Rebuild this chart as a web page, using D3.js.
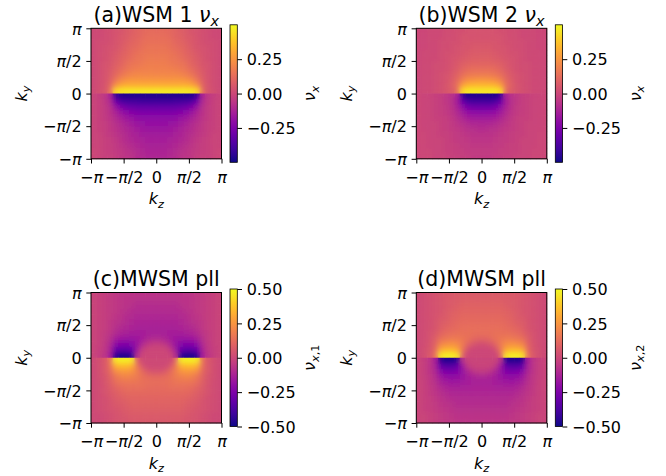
<!DOCTYPE html>
<html>
<head>
<meta charset="utf-8">
<script src="https://cdn.jsdelivr.net/npm/d3@7"></script>
<style>
  body { margin: 0; background: #fff; }
  text { font-family: "DejaVu Sans", sans-serif; white-space: pre; }
</style>
</head>
<body>
<svg id="fig" width="666" height="476"></svg>
<script>
// values: rows go from ky = +pi (top) to ky = -pi (bottom),
// columns from kz = -pi to kz = +pi, 24 x 24 cells per panel
const panelA = [
  [0.01,0.01,0.02,0.03,0.04,0.05,0.07,0.08,0.10,0.11,0.12,0.12,0.12,0.12,0.11,0.10,0.08,0.07,0.05,0.04,0.03,0.02,0.01,0.01],
  [0.01,0.01,0.02,0.03,0.04,0.06,0.07,0.09,0.10,0.12,0.13,0.13,0.13,0.13,0.12,0.10,0.09,0.07,0.06,0.04,0.03,0.02,0.01,0.01],
  [0.01,0.02,0.02,0.03,0.05,0.06,0.08,0.10,0.11,0.13,0.14,0.14,0.14,0.14,0.13,0.11,0.10,0.08,0.06,0.05,0.03,0.02,0.02,0.01],
  [0.01,0.02,0.03,0.04,0.05,0.07,0.09,0.11,0.12,0.14,0.15,0.15,0.15,0.15,0.14,0.12,0.11,0.09,0.07,0.05,0.04,0.03,0.02,0.01],
  [0.01,0.02,0.03,0.04,0.06,0.08,0.10,0.12,0.14,0.15,0.16,0.16,0.16,0.16,0.15,0.14,0.12,0.10,0.08,0.06,0.04,0.03,0.02,0.01],
  [0.01,0.02,0.03,0.05,0.07,0.09,0.11,0.13,0.15,0.16,0.17,0.17,0.17,0.17,0.16,0.15,0.13,0.11,0.09,0.07,0.05,0.03,0.02,0.01],
  [0.01,0.02,0.04,0.05,0.08,0.10,0.13,0.15,0.16,0.17,0.18,0.18,0.18,0.18,0.17,0.16,0.15,0.13,0.10,0.08,0.05,0.04,0.02,0.01],
  [0.01,0.02,0.04,0.06,0.09,0.12,0.15,0.17,0.18,0.19,0.19,0.19,0.19,0.19,0.19,0.18,0.17,0.15,0.12,0.09,0.06,0.04,0.02,0.01],
  [0.01,0.02,0.04,0.07,0.11,0.15,0.18,0.20,0.21,0.21,0.21,0.21,0.21,0.21,0.21,0.21,0.20,0.18,0.15,0.11,0.07,0.04,0.02,0.01],
  [0.01,0.02,0.04,0.08,0.15,0.21,0.24,0.25,0.25,0.25,0.25,0.25,0.25,0.25,0.25,0.25,0.25,0.24,0.21,0.15,0.08,0.04,0.02,0.01],
  [0.01,0.02,0.05,0.10,0.24,0.30,0.32,0.32,0.32,0.32,0.32,0.32,0.32,0.32,0.32,0.32,0.32,0.32,0.30,0.24,0.10,0.05,0.02,0.01],
  [0.01,0.03,0.05,0.12,0.42,0.45,0.46,0.46,0.46,0.46,0.46,0.46,0.46,0.46,0.46,0.46,0.46,0.46,0.45,0.42,0.12,0.05,0.03,0.01],
  [-0.01,-0.03,-0.05,-0.12,-0.42,-0.46,-0.47,-0.47,-0.47,-0.47,-0.47,-0.47,-0.47,-0.47,-0.47,-0.47,-0.47,-0.47,-0.46,-0.42,-0.12,-0.05,-0.03,-0.01],
  [-0.01,-0.02,-0.05,-0.10,-0.28,-0.36,-0.38,-0.39,-0.39,-0.40,-0.40,-0.40,-0.40,-0.40,-0.40,-0.39,-0.39,-0.38,-0.36,-0.28,-0.10,-0.05,-0.02,-0.01],
  [-0.01,-0.02,-0.04,-0.08,-0.17,-0.24,-0.28,-0.30,-0.31,-0.31,-0.31,-0.31,-0.31,-0.31,-0.31,-0.31,-0.30,-0.28,-0.24,-0.17,-0.08,-0.04,-0.02,-0.01],
  [-0.01,-0.02,-0.04,-0.07,-0.12,-0.17,-0.21,-0.23,-0.24,-0.25,-0.25,-0.25,-0.25,-0.25,-0.25,-0.24,-0.23,-0.21,-0.17,-0.12,-0.07,-0.04,-0.02,-0.01],
  [-0.01,-0.02,-0.04,-0.06,-0.10,-0.13,-0.16,-0.18,-0.20,-0.21,-0.21,-0.21,-0.21,-0.21,-0.21,-0.20,-0.18,-0.16,-0.13,-0.10,-0.06,-0.04,-0.02,-0.01],
  [-0.01,-0.02,-0.03,-0.05,-0.08,-0.10,-0.13,-0.15,-0.17,-0.18,-0.19,-0.19,-0.19,-0.19,-0.18,-0.17,-0.15,-0.13,-0.10,-0.08,-0.05,-0.03,-0.02,-0.01],
  [-0.01,-0.02,-0.03,-0.05,-0.07,-0.09,-0.11,-0.13,-0.15,-0.16,-0.17,-0.17,-0.17,-0.17,-0.16,-0.15,-0.13,-0.11,-0.09,-0.07,-0.05,-0.03,-0.02,-0.01],
  [-0.01,-0.01,-0.03,-0.04,-0.06,-0.08,-0.10,-0.12,-0.13,-0.15,-0.15,-0.15,-0.15,-0.15,-0.15,-0.13,-0.12,-0.10,-0.08,-0.06,-0.04,-0.03,-0.01,-0.01],
  [-0.01,-0.01,-0.02,-0.03,-0.05,-0.07,-0.09,-0.11,-0.12,-0.13,-0.14,-0.14,-0.14,-0.14,-0.13,-0.12,-0.11,-0.09,-0.07,-0.05,-0.03,-0.02,-0.01,-0.01],
  [-0.01,-0.01,-0.02,-0.03,-0.04,-0.06,-0.08,-0.09,-0.11,-0.12,-0.13,-0.13,-0.13,-0.13,-0.12,-0.11,-0.09,-0.08,-0.06,-0.04,-0.03,-0.02,-0.01,-0.01],
  [0.00,-0.01,-0.02,-0.03,-0.04,-0.05,-0.07,-0.08,-0.10,-0.11,-0.12,-0.12,-0.12,-0.12,-0.11,-0.10,-0.08,-0.07,-0.05,-0.04,-0.03,-0.02,-0.01,0.00],
  [0.00,-0.01,-0.02,-0.02,-0.03,-0.05,-0.06,-0.07,-0.09,-0.10,-0.11,-0.11,-0.11,-0.11,-0.10,-0.09,-0.07,-0.06,-0.05,-0.03,-0.02,-0.02,-0.01,0.00]
];

const panelB = [
  [0.00,0.00,0.01,0.01,0.01,0.02,0.02,0.03,0.03,0.04,0.04,0.04,0.04,0.04,0.04,0.03,0.03,0.02,0.02,0.01,0.01,0.01,0.00,0.00],
  [0.00,0.00,0.01,0.01,0.01,0.02,0.02,0.03,0.04,0.04,0.04,0.04,0.04,0.04,0.04,0.04,0.03,0.02,0.02,0.01,0.01,0.01,0.00,0.00],
  [0.00,0.00,0.01,0.01,0.02,0.02,0.03,0.03,0.04,0.05,0.05,0.05,0.05,0.05,0.05,0.04,0.03,0.03,0.02,0.02,0.01,0.01,0.00,0.00],
  [0.00,0.00,0.01,0.01,0.02,0.02,0.03,0.04,0.05,0.05,0.06,0.06,0.06,0.06,0.05,0.05,0.04,0.03,0.02,0.02,0.01,0.01,0.00,0.00],
  [0.00,0.01,0.01,0.01,0.02,0.03,0.03,0.04,0.05,0.06,0.07,0.07,0.07,0.07,0.06,0.05,0.04,0.03,0.03,0.02,0.01,0.01,0.01,0.00],
  [0.00,0.01,0.01,0.01,0.02,0.03,0.04,0.05,0.06,0.07,0.08,0.08,0.08,0.08,0.07,0.06,0.05,0.04,0.03,0.02,0.01,0.01,0.01,0.00],
  [0.00,0.01,0.01,0.02,0.02,0.03,0.04,0.06,0.08,0.09,0.10,0.10,0.10,0.10,0.09,0.08,0.06,0.04,0.03,0.02,0.02,0.01,0.01,0.00],
  [0.00,0.01,0.01,0.02,0.02,0.03,0.05,0.07,0.10,0.12,0.13,0.13,0.13,0.13,0.12,0.10,0.07,0.05,0.03,0.02,0.02,0.01,0.01,0.00],
  [0.00,0.01,0.01,0.02,0.03,0.04,0.06,0.09,0.13,0.16,0.17,0.17,0.17,0.17,0.16,0.13,0.09,0.06,0.04,0.03,0.02,0.01,0.01,0.00],
  [0.00,0.01,0.01,0.02,0.03,0.04,0.07,0.11,0.18,0.23,0.24,0.25,0.25,0.24,0.23,0.18,0.11,0.07,0.04,0.03,0.02,0.01,0.01,0.00],
  [0.00,0.01,0.01,0.02,0.03,0.05,0.08,0.14,0.28,0.33,0.34,0.34,0.34,0.34,0.33,0.28,0.14,0.08,0.05,0.03,0.02,0.01,0.01,0.00],
  [0.00,0.01,0.01,0.02,0.03,0.05,0.07,0.12,0.42,0.46,0.46,0.46,0.46,0.46,0.46,0.42,0.12,0.07,0.05,0.03,0.02,0.01,0.01,0.00],
  [0.00,-0.01,-0.01,-0.02,-0.03,-0.05,-0.07,-0.12,-0.42,-0.47,-0.47,-0.47,-0.47,-0.47,-0.47,-0.42,-0.12,-0.07,-0.05,-0.03,-0.02,-0.01,-0.01,0.00],
  [0.00,-0.01,-0.01,-0.02,-0.03,-0.05,-0.08,-0.14,-0.30,-0.37,-0.39,-0.39,-0.39,-0.39,-0.37,-0.30,-0.14,-0.08,-0.05,-0.03,-0.02,-0.01,-0.01,0.00],
  [0.00,-0.01,-0.01,-0.02,-0.03,-0.04,-0.07,-0.12,-0.20,-0.26,-0.28,-0.28,-0.28,-0.28,-0.26,-0.20,-0.12,-0.07,-0.04,-0.03,-0.02,-0.01,-0.01,0.00],
  [0.00,-0.01,-0.01,-0.02,-0.03,-0.04,-0.06,-0.10,-0.15,-0.19,-0.20,-0.21,-0.21,-0.20,-0.19,-0.15,-0.10,-0.06,-0.04,-0.03,-0.02,-0.01,-0.01,0.00],
  [0.00,-0.01,-0.01,-0.02,-0.02,-0.03,-0.05,-0.08,-0.11,-0.14,-0.15,-0.15,-0.15,-0.15,-0.14,-0.11,-0.08,-0.05,-0.03,-0.02,-0.02,-0.01,-0.01,0.00],
  [0.00,-0.01,-0.01,-0.01,-0.02,-0.03,-0.04,-0.06,-0.08,-0.10,-0.11,-0.11,-0.11,-0.11,-0.10,-0.08,-0.06,-0.04,-0.03,-0.02,-0.01,-0.01,-0.01,0.00],
  [0.00,-0.01,-0.01,-0.01,-0.02,-0.03,-0.04,-0.05,-0.06,-0.08,-0.08,-0.09,-0.09,-0.08,-0.08,-0.06,-0.05,-0.04,-0.03,-0.02,-0.01,-0.01,-0.01,0.00],
  [0.00,0.00,-0.01,-0.01,-0.02,-0.02,-0.03,-0.04,-0.05,-0.06,-0.07,-0.07,-0.07,-0.07,-0.06,-0.05,-0.04,-0.03,-0.02,-0.02,-0.01,-0.01,0.00,0.00],
  [0.00,0.00,-0.01,-0.01,-0.01,-0.02,-0.03,-0.04,-0.04,-0.05,-0.06,-0.06,-0.06,-0.06,-0.05,-0.04,-0.04,-0.03,-0.02,-0.01,-0.01,-0.01,0.00,0.00],
  [0.00,0.00,-0.01,-0.01,-0.01,-0.02,-0.02,-0.03,-0.04,-0.04,-0.05,-0.05,-0.05,-0.05,-0.04,-0.04,-0.03,-0.02,-0.02,-0.01,-0.01,-0.01,0.00,0.00],
  [0.00,0.00,0.00,-0.01,-0.01,-0.02,-0.02,-0.03,-0.03,-0.04,-0.04,-0.04,-0.04,-0.04,-0.04,-0.03,-0.03,-0.02,-0.02,-0.01,-0.01,0.00,0.00,0.00],
  [0.00,0.00,0.00,-0.01,-0.01,-0.01,-0.02,-0.02,-0.03,-0.03,-0.04,-0.04,-0.04,-0.04,-0.03,-0.03,-0.02,-0.02,-0.01,-0.01,-0.01,0.00,0.00,0.00]
];

const panelC = [
  [-0.01,-0.02,-0.03,-0.04,-0.05,-0.06,-0.06,-0.07,-0.07,-0.07,-0.07,-0.07,-0.07,-0.07,-0.07,-0.07,-0.07,-0.06,-0.06,-0.05,-0.04,-0.03,-0.02,-0.01],
  [-0.01,-0.02,-0.03,-0.04,-0.05,-0.06,-0.07,-0.07,-0.08,-0.08,-0.08,-0.08,-0.08,-0.08,-0.08,-0.08,-0.07,-0.07,-0.06,-0.05,-0.04,-0.03,-0.02,-0.01],
  [-0.01,-0.02,-0.03,-0.04,-0.05,-0.06,-0.07,-0.08,-0.09,-0.09,-0.09,-0.09,-0.09,-0.09,-0.09,-0.09,-0.08,-0.07,-0.06,-0.05,-0.04,-0.03,-0.02,-0.01],
  [-0.01,-0.02,-0.03,-0.04,-0.05,-0.07,-0.08,-0.09,-0.10,-0.10,-0.10,-0.10,-0.10,-0.10,-0.10,-0.10,-0.09,-0.08,-0.07,-0.05,-0.04,-0.03,-0.02,-0.01],
  [-0.01,-0.02,-0.03,-0.04,-0.06,-0.07,-0.09,-0.10,-0.11,-0.11,-0.11,-0.11,-0.11,-0.11,-0.11,-0.11,-0.10,-0.09,-0.07,-0.06,-0.04,-0.03,-0.02,-0.01],
  [-0.01,-0.02,-0.03,-0.05,-0.07,-0.08,-0.10,-0.11,-0.12,-0.12,-0.12,-0.12,-0.12,-0.12,-0.12,-0.12,-0.11,-0.10,-0.08,-0.07,-0.05,-0.03,-0.02,-0.01],
  [-0.01,-0.02,-0.03,-0.05,-0.08,-0.10,-0.11,-0.12,-0.13,-0.13,-0.13,-0.13,-0.13,-0.13,-0.13,-0.13,-0.12,-0.11,-0.10,-0.08,-0.05,-0.03,-0.02,-0.01],
  [-0.01,-0.02,-0.04,-0.06,-0.10,-0.12,-0.13,-0.14,-0.14,-0.14,-0.13,-0.13,-0.13,-0.13,-0.14,-0.14,-0.14,-0.13,-0.12,-0.10,-0.06,-0.04,-0.02,-0.01],
  [-0.01,-0.02,-0.04,-0.08,-0.14,-0.16,-0.17,-0.17,-0.16,-0.14,-0.11,-0.10,-0.10,-0.11,-0.14,-0.16,-0.17,-0.17,-0.16,-0.14,-0.08,-0.04,-0.02,-0.01],
  [-0.01,-0.02,-0.05,-0.10,-0.20,-0.23,-0.24,-0.22,-0.17,-0.10,-0.05,-0.03,-0.03,-0.05,-0.10,-0.17,-0.22,-0.24,-0.23,-0.20,-0.10,-0.05,-0.02,-0.01],
  [-0.01,-0.03,-0.05,-0.12,-0.30,-0.33,-0.33,-0.30,-0.15,-0.03,0.00,0.00,0.00,0.00,-0.03,-0.15,-0.30,-0.33,-0.33,-0.30,-0.12,-0.05,-0.03,-0.01],
  [-0.01,-0.03,-0.06,-0.14,-0.44,-0.47,-0.47,-0.44,-0.08,0.00,0.00,0.00,0.00,0.00,0.00,-0.08,-0.44,-0.47,-0.47,-0.44,-0.14,-0.06,-0.03,-0.01],
  [0.01,0.03,0.06,0.14,0.45,0.47,0.47,0.45,0.08,0.01,0.01,0.01,0.01,0.01,0.01,0.08,0.45,0.47,0.47,0.45,0.14,0.06,0.03,0.01],
  [0.01,0.03,0.06,0.13,0.32,0.35,0.35,0.32,0.16,0.04,0.01,0.01,0.01,0.01,0.04,0.16,0.32,0.35,0.35,0.32,0.13,0.06,0.03,0.01],
  [0.01,0.03,0.06,0.11,0.22,0.25,0.26,0.24,0.18,0.11,0.06,0.04,0.04,0.06,0.11,0.18,0.24,0.26,0.25,0.22,0.11,0.06,0.03,0.01],
  [0.01,0.03,0.05,0.09,0.16,0.19,0.20,0.19,0.17,0.14,0.12,0.11,0.11,0.12,0.14,0.17,0.19,0.20,0.19,0.16,0.09,0.05,0.03,0.01],
  [0.01,0.02,0.05,0.08,0.13,0.15,0.16,0.16,0.15,0.14,0.13,0.13,0.13,0.13,0.14,0.15,0.16,0.16,0.15,0.13,0.08,0.05,0.02,0.01],
  [0.01,0.02,0.04,0.07,0.10,0.12,0.13,0.13,0.13,0.13,0.12,0.12,0.12,0.12,0.13,0.13,0.13,0.13,0.12,0.10,0.07,0.04,0.02,0.01],
  [0.01,0.02,0.04,0.06,0.08,0.10,0.11,0.11,0.11,0.11,0.11,0.11,0.11,0.11,0.11,0.11,0.11,0.11,0.10,0.08,0.06,0.04,0.02,0.01],
  [0.01,0.02,0.03,0.05,0.07,0.08,0.09,0.10,0.10,0.10,0.10,0.10,0.10,0.10,0.10,0.10,0.10,0.09,0.08,0.07,0.05,0.03,0.02,0.01],
  [0.01,0.02,0.03,0.04,0.06,0.07,0.08,0.09,0.09,0.09,0.09,0.09,0.09,0.09,0.09,0.09,0.09,0.08,0.07,0.06,0.04,0.03,0.02,0.01],
  [0.01,0.02,0.03,0.04,0.05,0.06,0.07,0.08,0.08,0.08,0.08,0.08,0.08,0.08,0.08,0.08,0.08,0.07,0.06,0.05,0.04,0.03,0.02,0.01],
  [0.01,0.01,0.02,0.03,0.04,0.05,0.06,0.07,0.07,0.07,0.07,0.07,0.07,0.07,0.07,0.07,0.07,0.06,0.05,0.04,0.03,0.02,0.01,0.01],
  [0.01,0.01,0.02,0.03,0.04,0.05,0.05,0.06,0.06,0.06,0.06,0.06,0.06,0.06,0.06,0.06,0.06,0.05,0.05,0.04,0.03,0.02,0.01,0.01]
];

const panelD = [
  [0.01,0.02,0.03,0.04,0.05,0.06,0.06,0.07,0.07,0.07,0.07,0.07,0.07,0.07,0.07,0.07,0.07,0.06,0.06,0.05,0.04,0.03,0.02,0.01],
  [0.01,0.02,0.03,0.04,0.05,0.06,0.07,0.07,0.08,0.08,0.08,0.08,0.08,0.08,0.08,0.08,0.07,0.07,0.06,0.05,0.04,0.03,0.02,0.01],
  [0.01,0.02,0.03,0.04,0.05,0.06,0.07,0.08,0.09,0.09,0.09,0.09,0.09,0.09,0.09,0.09,0.08,0.07,0.06,0.05,0.04,0.03,0.02,0.01],
  [0.01,0.02,0.03,0.04,0.05,0.07,0.08,0.09,0.10,0.10,0.10,0.10,0.10,0.10,0.10,0.10,0.09,0.08,0.07,0.05,0.04,0.03,0.02,0.01],
  [0.01,0.02,0.03,0.04,0.06,0.07,0.09,0.10,0.11,0.11,0.11,0.11,0.11,0.11,0.11,0.11,0.10,0.09,0.07,0.06,0.04,0.03,0.02,0.01],
  [0.01,0.02,0.03,0.05,0.07,0.08,0.10,0.11,0.12,0.12,0.12,0.12,0.12,0.12,0.12,0.12,0.11,0.10,0.08,0.07,0.05,0.03,0.02,0.01],
  [0.01,0.02,0.03,0.05,0.08,0.10,0.11,0.12,0.13,0.13,0.13,0.13,0.13,0.13,0.13,0.13,0.12,0.11,0.10,0.08,0.05,0.03,0.02,0.01],
  [0.01,0.02,0.04,0.06,0.10,0.12,0.13,0.14,0.14,0.14,0.13,0.13,0.13,0.13,0.14,0.14,0.14,0.13,0.12,0.10,0.06,0.04,0.02,0.01],
  [0.01,0.02,0.04,0.08,0.14,0.16,0.17,0.17,0.16,0.14,0.11,0.10,0.10,0.11,0.14,0.16,0.17,0.17,0.16,0.14,0.08,0.04,0.02,0.01],
  [0.01,0.02,0.05,0.10,0.20,0.23,0.24,0.22,0.17,0.10,0.05,0.03,0.03,0.05,0.10,0.17,0.22,0.24,0.23,0.20,0.10,0.05,0.02,0.01],
  [0.01,0.03,0.05,0.12,0.30,0.33,0.33,0.30,0.15,0.03,0.00,0.00,0.00,0.00,0.03,0.15,0.30,0.33,0.33,0.30,0.12,0.05,0.03,0.01],
  [0.01,0.03,0.06,0.14,0.44,0.47,0.47,0.44,0.08,0.00,0.00,0.00,0.00,0.00,0.00,0.08,0.44,0.47,0.47,0.44,0.14,0.06,0.03,0.01],
  [-0.01,-0.03,-0.06,-0.14,-0.45,-0.47,-0.47,-0.45,-0.08,-0.01,-0.01,-0.01,-0.01,-0.01,-0.01,-0.08,-0.45,-0.47,-0.47,-0.45,-0.14,-0.06,-0.03,-0.01],
  [-0.01,-0.03,-0.06,-0.13,-0.32,-0.35,-0.35,-0.32,-0.16,-0.04,-0.01,-0.01,-0.01,-0.01,-0.04,-0.16,-0.32,-0.35,-0.35,-0.32,-0.13,-0.06,-0.03,-0.01],
  [-0.01,-0.03,-0.06,-0.11,-0.22,-0.25,-0.26,-0.24,-0.18,-0.11,-0.06,-0.04,-0.04,-0.06,-0.11,-0.18,-0.24,-0.26,-0.25,-0.22,-0.11,-0.06,-0.03,-0.01],
  [-0.01,-0.03,-0.05,-0.09,-0.16,-0.19,-0.20,-0.19,-0.17,-0.14,-0.12,-0.11,-0.11,-0.12,-0.14,-0.17,-0.19,-0.20,-0.19,-0.16,-0.09,-0.05,-0.03,-0.01],
  [-0.01,-0.02,-0.05,-0.08,-0.13,-0.15,-0.16,-0.16,-0.15,-0.14,-0.13,-0.13,-0.13,-0.13,-0.14,-0.15,-0.16,-0.16,-0.15,-0.13,-0.08,-0.05,-0.02,-0.01],
  [-0.01,-0.02,-0.04,-0.07,-0.10,-0.12,-0.13,-0.13,-0.13,-0.13,-0.12,-0.12,-0.12,-0.12,-0.13,-0.13,-0.13,-0.13,-0.12,-0.10,-0.07,-0.04,-0.02,-0.01],
  [-0.01,-0.02,-0.04,-0.06,-0.08,-0.10,-0.11,-0.11,-0.11,-0.11,-0.11,-0.11,-0.11,-0.11,-0.11,-0.11,-0.11,-0.11,-0.10,-0.08,-0.06,-0.04,-0.02,-0.01],
  [-0.01,-0.02,-0.03,-0.05,-0.07,-0.08,-0.09,-0.10,-0.10,-0.10,-0.10,-0.10,-0.10,-0.10,-0.10,-0.10,-0.10,-0.09,-0.08,-0.07,-0.05,-0.03,-0.02,-0.01],
  [-0.01,-0.02,-0.03,-0.04,-0.06,-0.07,-0.08,-0.09,-0.09,-0.09,-0.09,-0.09,-0.09,-0.09,-0.09,-0.09,-0.09,-0.08,-0.07,-0.06,-0.04,-0.03,-0.02,-0.01],
  [-0.01,-0.02,-0.03,-0.04,-0.05,-0.06,-0.07,-0.08,-0.08,-0.08,-0.08,-0.08,-0.08,-0.08,-0.08,-0.08,-0.08,-0.07,-0.06,-0.05,-0.04,-0.03,-0.02,-0.01],
  [-0.01,-0.01,-0.02,-0.03,-0.04,-0.05,-0.06,-0.07,-0.07,-0.07,-0.07,-0.07,-0.07,-0.07,-0.07,-0.07,-0.07,-0.06,-0.05,-0.04,-0.03,-0.02,-0.01,-0.01],
  [-0.01,-0.01,-0.02,-0.03,-0.04,-0.05,-0.05,-0.06,-0.06,-0.06,-0.06,-0.06,-0.06,-0.06,-0.06,-0.06,-0.06,-0.05,-0.05,-0.04,-0.03,-0.02,-0.01,-0.01]
];

const titles = ["(a)WSM 1 ", "(b)WSM 2 ", "(c)MWSM pll", "(d)MWSM pll"];
const titleSymbol = ["ν", "ν", "", ""];
const titleSub = ["x", "x", "", ""];
const cbSubs = ["x", "x", "x,1", "x,2"];
const axisTickVals = [-Math.PI, -Math.PI / 2, 0, Math.PI / 2, Math.PI];
const axisTickLabels = ["−π", "−π/2", "0", "π/2", "π"];
const cbTicksWSM = [-0.25, 0, 0.25];
const cbTicksMWSM = [-0.5, -0.25, 0, 0.25, 0.5];

const svg = d3.select("#fig");
const color = d3.scaleSequential(d3.interpolatePlasma).domain([-0.5, 0.5]);
const size = 130.5;
const fs = 16;

const panels = [
  { grid: panelA, left: 91, top: 28.3, cbTicks: cbTicksWSM },
  { grid: panelB, left: 416.3, top: 28.3, cbTicks: cbTicksWSM },
  { grid: panelC, left: 91, top: 292.5, cbTicks: cbTicksMWSM },
  { grid: panelD, left: 416.3, top: 292.5, cbTicks: cbTicksMWSM }
];

const defs = svg.append("defs");

// gradient for the colour bars
const grad = defs.append("linearGradient")
  .attr("id", "plasma").attr("x1", 0).attr("y1", 1).attr("x2", 0).attr("y2", 0);
grad.selectAll("stop").data(d3.range(0, 1.001, 0.05)).enter().append("stop")
  .attr("offset", d => d)
  .attr("stop-color", d => d3.interpolatePlasma(d));

// soften the cell grid a little, like imshow's interpolation
defs.append("filter").attr("id", "soft")
  .attr("x", "-5%").attr("y", "-5%").attr("width", "110%").attr("height", "110%")
  .append("feGaussianBlur").attr("stdDeviation", 2.4);

// text with italic symbols and subscripts, matplotlib mathtext style
function richText(sel, parts, size) {
  sel.text(null);
  let inSub = false;
  parts.forEach(p => {
    const t = sel.append("tspan").text(p.t);
    if (p.i) t.attr("font-style", "italic");
    if (p.sub) {
      t.attr("font-size", size * 0.7);
      if (!inSub) t.attr("dy", size * 0.2);
      inSub = true;
    } else {
      if (inSub) t.attr("dy", -size * 0.2);
      inSub = false;
    }
  });
}

function tickParts(label) {
  return label.split(/(π)/).filter(s => s.length).map(s => ({ t: s, i: s === "π" }));
}

function subParts(sub) {
  return sub.split(/([a-z])/).filter(s => s.length).map(s => ({ t: s, i: /[a-z]/.test(s), sub: true }));
}

function drawCells(sel, cells, x, y, dz, dy) {
  sel.selectAll("rect")
    .data(cells)
    .enter()
    .append("rect")
    .attr("x", d => x(d.kz))
    .attr("y", d => y(d.ky))
    .attr("width", d => x(d.kz + dz) - x(d.kz) + 0.4)
    .attr("height", d => y(d.ky - dy) - y(d.ky) + 0.4)
    .attr("fill", d => color(d.v));
}

panels.forEach((p, k) => {
  const g = svg.append("g");
  const nRows = p.grid.length, nCols = p.grid[0].length;
  const x = d3.scaleLinear().domain([-Math.PI, Math.PI]).range([p.left, p.left + size]);
  const y = d3.scaleLinear().domain([-Math.PI, Math.PI]).range([p.top + size, p.top]);
  const dz = 2 * Math.PI / nCols, dy = 2 * Math.PI / nRows;

  const cells = [];
  p.grid.forEach((row, i) => row.forEach((v, j) => {
    cells.push({ kz: -Math.PI + j * dz, ky: Math.PI - i * dy, v: v, upper: i < nRows / 2 });
  }));

  // crisp cells underneath, softened copy on top; the two halves are blurred
  // separately so the jump at ky = 0 stays sharp
  drawCells(g.append("g"), cells, x, y, dz, dy);
  [true, false].forEach(up => {
    const id = `clip${k}${up ? "u" : "l"}`;
    defs.append("clipPath").attr("id", id).append("rect")
      .attr("x", p.left).attr("width", size)
      .attr("y", up ? y(Math.PI) : y(0)).attr("height", size / 2);
    const half = g.append("g").attr("clip-path", `url(#${id})`)
      .append("g").attr("filter", "url(#soft)");
    drawCells(half, cells.filter(c => c.upper === up), x, y, dz, dy);
  });

  // frame
  g.append("rect")
    .attr("x", p.left).attr("y", p.top)
    .attr("width", size).attr("height", size)
    .attr("fill", "none").attr("stroke", "#000").attr("stroke-width", 1);

  // axes
  const yAxis = g.append("g")
    .attr("transform", `translate(${p.left},0)`)
    .call(d3.axisLeft(y).tickValues(axisTickVals).tickSize(4.7).tickPadding(4.7)
      .tickFormat((d, i) => axisTickLabels[i]));
  const xAxis = g.append("g")
    .attr("transform", `translate(0,${p.top + size})`)
    .call(d3.axisBottom(x).tickValues(axisTickVals).tickSize(4.7).tickPadding(4.7)
      .tickFormat((d, i) => axisTickLabels[i]));

  [yAxis, xAxis].forEach(ax => {
    ax.select(".domain").remove();
    ax.attr("font-size", fs).attr("font-family", "DejaVu Sans");
    ax.selectAll(".tick line").attr("stroke", "#000").attr("stroke-width", 1);
    ax.selectAll(".tick text").attr("fill", "#000").each(function (d, i) {
      richText(d3.select(this), tickParts(axisTickLabels[i]), fs);
    });
  });
  yAxis.selectAll(".tick text").attr("dy", "0.36em");
  xAxis.selectAll(".tick text").attr("y", 24.2).attr("dy", 0);

  // axis labels
  const kz = g.append("text")
    .attr("x", p.left + size / 2).attr("y", p.top + size + 45.5)
    .attr("text-anchor", "middle").attr("font-size", fs);
  richText(kz, [{ t: "k", i: true }, { t: "z", i: true, sub: true }], fs);

  const ky = g.append("text")
    .attr("transform", `translate(${p.left - 64.5},${p.top + size / 2}) rotate(-90)`)
    .attr("text-anchor", "middle").attr("font-size", fs);
  richText(ky, [{ t: "k", i: true }, { t: "y", i: true, sub: true }], fs);

  // title
  const tt = g.append("text")
    .attr("x", p.left + size / 2).attr("y", p.top - 6.2)
    .attr("text-anchor", "middle").attr("font-size", 20.5);
  const tparts = [{ t: titles[k] }];
  if (titleSymbol[k]) {
    tparts.push({ t: titleSymbol[k], i: true });
    tparts.push({ t: titleSub[k], i: true, sub: true });
  }
  richText(tt, tparts, 20.5);

  // colour bar
  const cbLeft = p.left + size + 8.5, cbW = 7.3;
  const cbTop = p.top - 3.5, cbBot = p.top + size + 3.5;
  const cy = d3.scaleLinear().domain([-0.5, 0.5]).range([cbBot, cbTop]);
  g.append("rect")
    .attr("x", cbLeft).attr("y", cbTop)
    .attr("width", cbW).attr("height", cbBot - cbTop)
    .attr("fill", "url(#plasma)")
    .attr("stroke", "#000").attr("stroke-width", 0.8);
  const cAxis = g.append("g")
    .attr("transform", `translate(${cbLeft + cbW},0)`)
    .call(d3.axisRight(cy).tickValues(p.cbTicks).tickSize(4.7).tickPadding(4.7)
      .tickFormat(d3.format(".2f")));
  cAxis.select(".domain").remove();
  cAxis.attr("font-size", fs).attr("font-family", "DejaVu Sans");
  cAxis.selectAll(".tick line").attr("stroke", "#000").attr("stroke-width", 1);
  cAxis.selectAll(".tick text").attr("fill", "#000").attr("dy", "0.36em");

  const cl = g.append("text")
    .attr("transform", `translate(${cbLeft + cbW + 78},${(cbTop + cbBot) / 2}) rotate(-90)`)
    .attr("text-anchor", "middle").attr("font-size", fs);
  richText(cl, [{ t: "ν", i: true }].concat(subParts(cbSubs[k])), fs);
});
</script>
</body>
</html>
